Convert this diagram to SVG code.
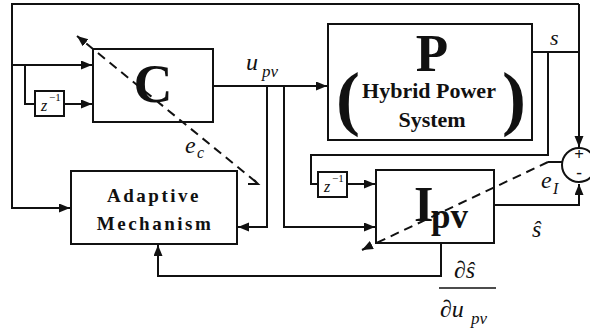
<svg xmlns="http://www.w3.org/2000/svg" width="590" height="331" viewBox="0 0 590 331" font-family="Liberation Serif, Times New Roman, serif">
<defs>
<marker id="ah" markerUnits="userSpaceOnUse" markerWidth="12" markerHeight="10" refX="11" refY="4.5" orient="auto"><path d="M0,0 L11,4.5 L0,9 z" fill="#111"/></marker>
</defs>
<style>
.ln{fill:none;stroke:#111;stroke-width:2}
.bx{fill:#fff;stroke:#111;stroke-width:2}
.ds{fill:none;stroke:#111;stroke-width:2;stroke-dasharray:9,6}
text{fill:#111}
.it{font-style:italic}
.bd{font-weight:bold}
</style>
<rect width="590" height="331" fill="#fff"/>
<g id="C">
<rect class="bx" x="93" y="49" width="120" height="73"/>
<text class="bd" x="153" y="102" font-size="54" text-anchor="middle">C</text>
</g>
<g id="z1">
<rect class="bx" x="35" y="91" width="29" height="25"/>
<text class="it" x="41" y="111" font-size="16">z</text>
<text x="49" y="101" font-size="11">−1</text>
</g>
<g id="P">
<rect class="bx" x="328" y="24" width="204" height="116"/>
<text class="bd" x="432" y="71" font-size="53" text-anchor="middle">P</text>
<text class="bd" x="348" y="122" font-size="72" text-anchor="middle">(</text>
<text class="bd" x="514" y="122" font-size="72" text-anchor="middle">)</text>
<text class="bd" x="429" y="98" font-size="22" text-anchor="middle">Hybrid Power</text>
<text class="bd" x="432" y="127" font-size="22" text-anchor="middle">System</text>
</g>
<g id="z2">
<rect class="bx" x="318" y="172" width="29" height="25"/>
<text class="it" x="324" y="192" font-size="16">z</text>
<text x="332" y="182" font-size="11">−1</text>
</g>
<g id="Ipv">
<rect class="bx" x="376" y="170" width="118" height="73"/>
<text class="bd" x="414" y="221" font-size="50">I</text>
<text class="bd" x="431" y="228" font-size="35">pv</text>
</g>
<g id="Adaptive">
<rect class="bx" x="71" y="171" width="166" height="73"/>
<text class="bd" x="154" y="202" font-size="19" letter-spacing="2.5" text-anchor="middle">Adaptive</text>
<text class="bd" x="155" y="230" font-size="19" letter-spacing="2.5" text-anchor="middle">Mechanism</text>
</g>
<g id="sum">
<circle cx="579" cy="165" r="17" fill="#fff" stroke="#111" stroke-width="2"/>
<text class="bd" x="579" y="160" font-size="17" text-anchor="middle">+</text>
<text class="bd" x="579" y="178" font-size="17" text-anchor="middle">-</text>
</g>
<g id="connectors">
<path class="ln" d="M579,4 H12 V208 H70" marker-end="url(#ah)"/>
<path class="ln" d="M579,4 V147" marker-end="url(#ah)"/>
<path class="ln" d="M12,65 H92" marker-end="url(#ah)"/>
<path class="ln" d="M25,65 V104 H35"/>
<path class="ln" d="M64,104 H92" marker-end="url(#ah)"/>
<path class="ln" d="M213,86 H327" marker-end="url(#ah)"/>
<path class="ln" d="M267,86 V227 H238" marker-end="url(#ah)"/>
<path class="ln" d="M284,86 V227 H375" marker-end="url(#ah)"/>
<path class="ln" d="M532,52 H579"/>
<path class="ln" d="M548,52 V155 H311 V184 H318"/>
<path class="ln" d="M347,184 H375" marker-end="url(#ah)"/>
<path class="ln" d="M494,205 H579 V184" marker-end="url(#ah)"/>
<path class="ln" d="M441,243 V276 H158 V245" marker-end="url(#ah)"/>
<path class="ds" d="M256,182 L82,40"/>
<path class="ln" d="M82,40 L77,36" marker-end="url(#ah)"/>
<path class="ln" d="M248,184 H258 L254,180"/>
<path class="ds" d="M548,162 L368,247"/>
<path class="ln" d="M368,247 L362,250" marker-end="url(#ah)"/>
<path class="ln" d="M548,162 H562"/>
</g>
<g id="labels">
<text class="it" x="246" y="70" font-size="24">u</text>
<text class="it" x="262" y="77" font-size="17">pv</text>
<text class="it" x="185" y="153" font-size="24">e</text>
<text class="it" x="197" y="158" font-size="16">c</text>
<text class="it" x="550" y="45" font-size="22">s</text>
<text class="it" x="541" y="188" font-size="24">e</text>
<text class="it" x="553" y="194" font-size="16">I</text>
<text class="it" x="532" y="237" font-size="24">ŝ</text>
<text class="it" x="454" y="278" font-size="24">∂ŝ</text>
<line x1="439" y1="288" x2="496" y2="288" stroke="#111" stroke-width="1.5"/>
<text class="it" x="440" y="317" font-size="24">∂u</text>
<text class="it" x="471" y="324" font-size="17">pv</text>
</g>
</svg>
